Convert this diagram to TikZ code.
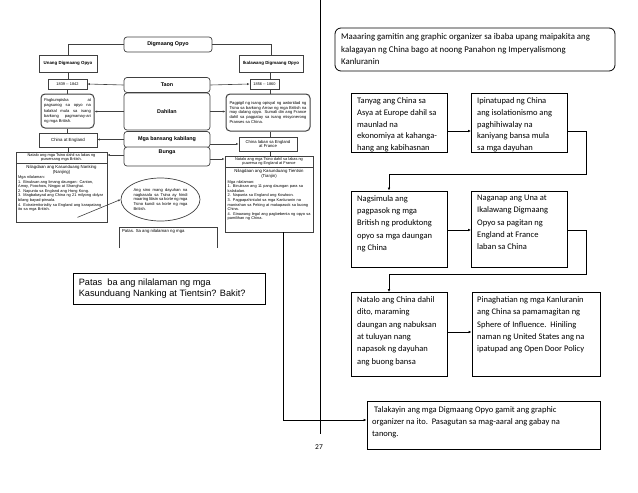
\documentclass[tikz,border=0pt]{standalone}
\usepackage{fontspec}
\setmainfont{Carlito}
\newfontfamily\arialf{Liberation Sans}
\usetikzlibrary{arrows.meta,shapes.geometric}
\begin{document}
\begin{tikzpicture}[x=1pt,y=-1pt,
 arr/.style={line width=0.7pt,-{Latex[length=3pt,width=2.6pt]}},
 rbox/.style={draw,line width=0.8pt,inner sep=0pt},
 rtxt/.style={anchor=north west,inner sep=0pt,align=left,font=\fontsize{8.5}{12.3}\selectfont},
 lbox/.style={draw=black!75,line width=0.7pt,fill=white,inner sep=0pt},
 lround/.style={lbox,rounded corners=3pt},
 lhead/.style={font=\arialf\bfseries\fontsize{5.4}{6}\selectfont},
 lsub/.style={font=\arialf\bfseries\fontsize{4.4}{5}\selectfont},
 ltxt/.style={font=\arialf\fontsize{3.9}{4.6}\selectfont,inner sep=0pt},
 larr/.style={draw=black!75,line width=0.6pt,-{Latex[length=2.6pt,width=2.2pt]}},
 lline/.style={draw=black!75,line width=0.6pt},
]
\useasboundingbox (0,0) rectangle (638,493);

% ---------------- left: scanned organizer ----------------
\node[lround,minimum width=88pt,minimum height=15pt,lhead] (dig) at (168,44.5) {Digmaang Opyo};
\node[lbox,minimum width=58pt,minimum height=17pt,lsub] (unang) at (68,63.5) {Unang Digmaang Opyo};
\node[lbox,minimum width=64pt,minimum height=17pt,lsub] (ikal) at (271,63.5) {Ikalawang Digmaang Opyo};
\node[lround,minimum width=86pt,minimum height=15pt,lhead] (taon) at (167,85) {Taon};
\node[lbox,minimum width=39pt,minimum height=10pt,ltxt] (ya) at (67.5,84) {1839 -- 1842};
\node[lbox,minimum width=29pt,minimum height=10pt,ltxt] (yb) at (264.5,84) {1856 -- 1860};
\node[lround,minimum width=86pt,minimum height=37pt,lhead] (dah) at (167,111.5) {Dahilan};
\node[lbox,rounded corners=4pt,line width=1pt,minimum width=53pt,minimum height=34pt,ltxt,
  font=\arialf\fontsize{4.1}{5.2}\selectfont,text width=47pt,align=justify] (lda) at (67.5,111)
  {Pagkumpiska at pagsunog sa opyo na kalakal mula sa isang barkong pagmamay-ari ng mga British.};
\node[lbox,rounded corners=4pt,line width=1pt,minimum width=84pt,minimum height=37pt,ltxt,
  font=\arialf\fontsize{4.1}{4.8}\selectfont,text width=77pt,align=justify] (rda) at (268,112.5)
  {Pagpigil ng isang opisyal ng awtoridad ng Tsina sa barkong Arrow ng mga British na may dalang opyo. Sumali din ang France dahil sa pagpatay sa isang misyonerong Pranses sa China.};
\node[lround,minimum width=86pt,minimum height=16pt,lhead] (mga) at (167,139.5) {Mga bansang kabilang};
\node[lbox,minimum width=58pt,minimum height=14pt,ltxt,font=\arialf\fontsize{4.4}{5}\selectfont] (lce) at (68,140) {China at England};
\node[lbox,minimum width=58pt,minimum height=14pt,ltxt,align=center,font=\arialf\fontsize{4.2}{4.8}\selectfont] (rce) at (268,144) {China laban sa England\\at France};
\node[lround,minimum width=86pt,minimum height=19pt] (bunga) at (167,156.5) {};
\node[lhead,inner sep=0pt,anchor=north] at ([yshift=-3pt]bunga.north) {Bunga};

% left big box
\node[lbox,minimum width=91pt,minimum height=70pt] (lbig) at (61.5,187) {};
\node[ltxt,anchor=north,align=center] at ([yshift=-1.5pt]lbig.north) {Natalo ang mga Tsino dahil sa lakas ng\\puwersang mga British.};
\draw[lline] (16,163) -- (107,163);
\node[ltxt,anchor=north,align=center,font=\arialf\fontsize{4.3}{4.9}\selectfont] at (61.5,165) {Nilagdaan ang Kasunduang Nanking\\(Nanjing)};
\node[ltxt,anchor=north west,text width=87pt,align=left] at (18,175.5)
  {Mga nilalaman:\\1. Binuksan ang limang daungan: Canton, Amoy, Foochow, Ningpo at Shanghai.\\2. Napunta sa England ang Hong Kong.\\3. Magbabayad ang China ng 21 milyong dolyar bilang bayad-pinsala.\\4. Extraterritoriality sa England ang karapatang ito sa mga British.};

% right big box
\node[lbox,minimum width=88pt,minimum height=76pt] (rbig) at (269,194) {};
\node[ltxt,anchor=north,align=center] at ([yshift=-1.5pt]rbig.north) {Natalo ang mga Tsino dahil sa lakas ng\\puwersa ng England at France};
\draw[lline] (225,167) -- (313,167);
\node[ltxt,anchor=north,align=center,font=\arialf\fontsize{4.3}{4.9}\selectfont] at (269,169) {Nilagdaan ang Kasunduang Tientsin\\(Tianjin)};
\node[ltxt,anchor=north west,text width=84pt,align=left] at (227.5,180)
  {Mga nilalaman:\\1. Binuksan ang 11 pang daungan para sa kalakalan.\\2. Napunta sa England ang Kowloon.\\3. Pagpapahintulot sa mga Kanluranin na manirahan sa Peking at makapasok sa buong China.\\4. Ginawang legal ang pagbebenta ng opyo sa pamilihan ng China.};

% ellipse
\node[ellipse,draw=black!75,line width=0.7pt,minimum width=79pt,minimum height=43pt,inner sep=0pt,ltxt,
  font=\arialf\fontsize{4.1}{4.8}\selectfont,text width=54pt,align=justify] (ell) at (160.5,199.5)
  {Ang sino mang dayuhan na nagkasala sa Tsina ay hindi maaring litisin sa korte ng mga Tsino kundi sa korte ng mga British.};

% partial box
\node[minimum width=98pt,minimum height=21pt,inner sep=0pt] (part) at (168,237.5) {};
\draw[lline] (part.south west) -- (part.north west) -- (part.north east) -- (part.south east);
\node[ltxt,anchor=north west,font=\arialf\fontsize{4.3}{5}\selectfont] at ([shift={(3,2.5)}]part.north west) {Patas. Sa ang nilalaman ng mga};

% question box
\node[draw,line width=0.8pt,minimum width=192pt,minimum height=31pt,inner sep=0pt] (qbox) at (169,288.5) {};
\node[anchor=north west,inner sep=0pt,align=left,font=\arialf\fontsize{9.2}{11.3}\selectfont] at ([shift={(6,6)}]qbox.north west)
  {Patas\ \ ba ang nilalaman ng mga\\Kasunduang Nanking at Tientsin? Bakit?};

% left connectors
\draw[lline] (dig.west) -| (unang.north);
\draw[lline] (dig.east) -| (ikal.north);
\draw[lline] (unang.south) -- (unang.south |- ya.north);
\draw[lline] (ya.south) -- (ya.south |- lda.north);
\draw[lline] (lda.south) -- (lda.south |- lce.north);
\draw[lline] (lce.south) -- (lce.south |- lbig.north);
\coordinate (rx) at (270,0);
\draw[lline] (rx |- ikal.south) -- (rx |- yb.north);
\draw[lline] (rx |- yb.south) -- (rx |- rda.north);
\draw[lline] (rx |- rda.south) -- (rx |- rce.north);
\draw[lline] (rx |- rce.south) -- (rx |- rbig.north);
\draw[larr] (taon.west) -- (ya.east);
\draw[larr] (taon.east) -- (yb.west);
\draw[larr] (dah.west) -- (dah.west -| lda.east);
\draw[larr] (dah.east) -- (dah.east -| rda.west);
\draw[larr] (mga.west) -- (mga.west -| lce.east);
\draw[larr] (mga.east |- rce.west) -- (rce.west);
\coordinate (bL) at ([yshift=1.5pt]bunga.west);
\draw[larr] (bL) -- (bL -| lbig.east);
\coordinate (bR) at ([yshift=-2.5pt]bunga.east);
\draw[larr] (bR) -- (bR -| rbig.west);
\draw[larr] ([shift={(16,-5)}]lbig.south) -- (ell.west);

% page divider and number
\draw[line width=0.8pt] (320,0) -- (320,434);
\node[inner sep=0pt,font=\fontsize{7.5}{9}\selectfont] (pnum) at (319,447) {27};

% ---------------- right: flow organizer ----------------
\node[rbox,rounded corners=6pt,minimum width=280pt,minimum height=43pt] (top) at (475,49.5) {};
\node[rtxt,font=\fontsize{8.8}{12.5}\selectfont] at (341,33.5)
  {Maaaring gamitin ang graphic organizer sa ibaba upang maipakita ang\\kalagayan ng China bago at noong Panahon ng Imperyalismong\\Kanluranin};

\node[rbox,minimum width=96pt,minimum height=59pt] (b1) at (399,122.5) {};
\node[rtxt,font=\fontsize{8.5}{11.7}\selectfont] at (357,97.5) {Tanyag ang China sa\\Asya at Europe dahil sa\\maunlad na\\ekonomiya at kahanga-\\hang ang kabihasnan};
\node[rbox,minimum width=96pt,minimum height=59pt] (b2) at (519.5,122.5) {};
\node[rtxt,font=\fontsize{8.5}{11.7}\selectfont] at (477,97.5) {Ipinatupad ng China\\ang isolationismo ang\\paghihiwalay na\\kaniyang bansa mula\\sa mga dayuhan};

\node[rbox,minimum width=96pt,minimum height=76pt] (b3) at (399,229) {};
\node[rtxt] at (357,195) {Nagsimula ang\\pagpasok ng mga\\British ng produktong\\opyo sa mga daungan\\ng China};
\node[rbox,minimum width=96pt,minimum height=76pt] (b4) at (519.5,229) {};
\node[rtxt] at (477,195) {Naganap ang Una at\\Ikalawang Digmaang\\Opyo sa pagitan ng\\England at France\\laban sa China};

\node[rbox,minimum width=96pt,minimum height=84pt] (b5) at (399,334.5) {};
\node[rtxt] at (357,296.5) {Natalo ang China dahil\\dito, maraming\\daungan ang nabuksan\\at tuluyan nang\\napasok ng dayuhan\\ang buong bansa};
\node[rbox,minimum width=128pt,minimum height=84pt] (b6) at (536,334.5) {};
\node[rtxt] at (477,296.5) {Pinaghatian ng mga Kanluranin\\ang China sa pamamagitan ng\\Sphere of Influence.\ \ Hiniling\\naman ng United States ang na\\ipatupad ang Open Door Policy};

\node[rbox,minimum width=233pt,minimum height=48pt] (tala) at (483.5,425) {};
\node[rtxt,font=\fontsize{8.5}{12}\selectfont] at (372,406.5) {\ Talakayin ang mga Digmaang Opyo gamit ang graphic\\organizer na ito.\ \ Pasagutan sa mag-aaral ang gabay na\\tanong.};

% right connectors
\draw[arr] ([yshift=-8.5pt]b1.east) -- ([yshift=-8.5pt]b2.west);
\draw[arr] ([yshift=-8.5pt]b2.east) -| (586,174) -| ([xshift=-10pt]b3.north);
\draw[arr] ([yshift=-1pt]b3.east) -- ([yshift=-1pt]b4.west);
\draw[arr] ([yshift=-1pt]b4.east) -| (586,274) -| ([xshift=-10pt]b5.north);
\draw[arr] ([yshift=2.5pt]b5.east) -- ([yshift=2.5pt]b5.east -| b6.west);
\draw[arr] ([xshift=14pt]rbig.south) |- ([yshift=5pt]tala.west);
\end{tikzpicture}
\end{document}
